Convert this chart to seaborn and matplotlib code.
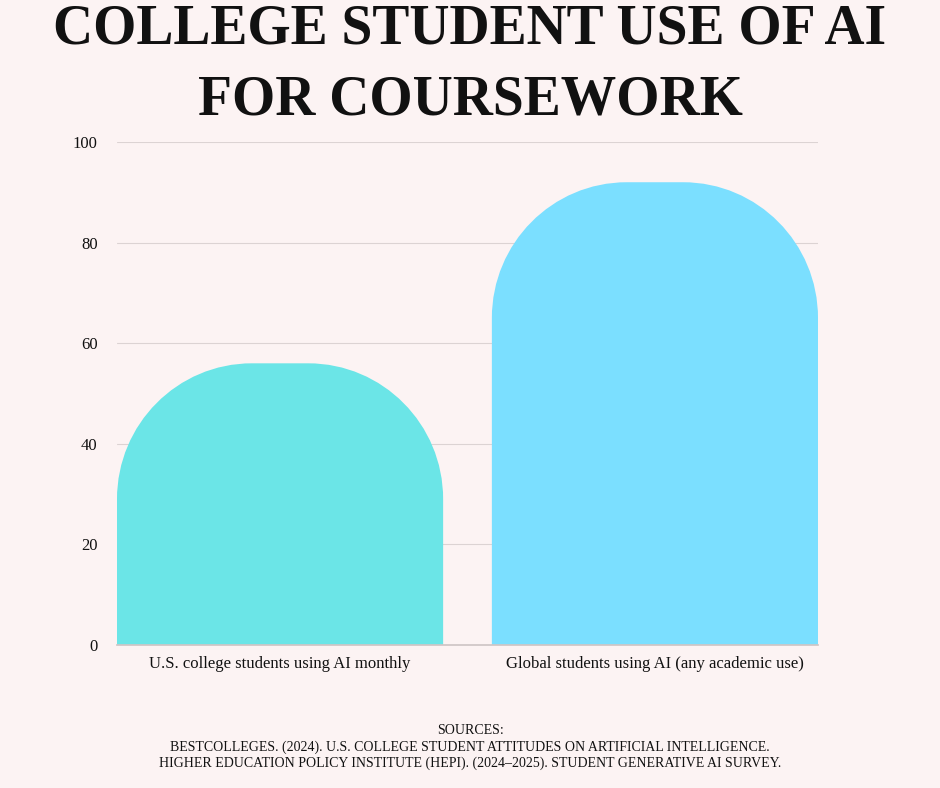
import matplotlib
matplotlib.use("Agg")
import matplotlib.pyplot as plt
import seaborn as sns
import pandas as pd
from matplotlib.path import Path
from matplotlib.patches import PathPatch

categories = ["U.S. college students using AI monthly",
              "Global students using AI (any academic use)"]
values = [56, 92]
colors = ["#6be5e7", "#7bdfff"]
title_lines = ["COLLEGE STUDENT USE OF AI", "FOR COURSEWORK"]
sources = ("SOURCES:\n"
           "BESTCOLLEGES. (2024). U.S. COLLEGE STUDENT ATTITUDES ON ARTIFICIAL INTELLIGENCE.\n"
           "HIGHER EDUCATION POLICY INSTITUTE (HEPI). (2024–2025). STUDENT GENERATIVE AI SURVEY.")

bg = "#fcf3f3"
sns.set_theme(style="white")
plt.rcParams["font.family"] = ["Liberation Serif", "DejaVu Serif"]

fig = plt.figure(figsize=(9.4, 7.88), dpi=100, facecolor=bg)
ax = fig.add_axes([117 / 940, 1 - 645 / 788, 701 / 940, 503 / 788])
ax.set_facecolor(bg)

df = pd.DataFrame({"category": categories, "value": values})
sns.barplot(data=df, x="category", y="value", hue="category", palette=colors,
            width=0.87, legend=False, ax=ax)

# replace the square bars with rounded-top ones
rx, ry = 0.36, 27
for patch, col in zip(list(ax.patches), colors):
    x0, w, h = patch.get_x(), patch.get_width(), patch.get_height()
    patch.remove()
    x1 = x0 + w
    k = 0.5523
    verts = [(x0, 0), (x0, h - ry),
             (x0, h - ry + k * ry), (x0 + rx - k * rx, h), (x0 + rx, h),
             (x1 - rx, h),
             (x1 - rx + k * rx, h), (x1, h - ry + k * ry), (x1, h - ry),
             (x1, 0), (x0, 0)]
    codes = [Path.MOVETO, Path.LINETO,
             Path.CURVE4, Path.CURVE4, Path.CURVE4,
             Path.LINETO,
             Path.CURVE4, Path.CURVE4, Path.CURVE4,
             Path.LINETO, Path.CLOSEPOLY]
    ax.add_patch(PathPatch(Path(verts, codes), facecolor=col, edgecolor="none", zorder=2))

ax.set_xlim(-0.435, 1.435)
ax.set_ylim(0, 100)
ax.set_yticks([0, 20, 40, 60, 80, 100])
ax.grid(axis="y", color="#dcd3d3", linewidth=0.8, zorder=0)
ax.set_axisbelow(True)
for s in ["top", "right", "left"]:
    ax.spines[s].set_visible(False)
ax.spines["bottom"].set_color("#cfc6c6")
ax.tick_params(axis="both", length=0, labelsize=12, colors="#111111")
ax.tick_params(axis="y", pad=14)
ax.tick_params(axis="x", pad=8)
ax.set_xlabel("")
ax.set_ylabel("")

for y, line in zip([0.962, 0.872], title_lines):
    fig.text(0.5, y, line, ha="center", va="center", fontsize=40,
             fontweight="bold", color="#111111")
fig.text(0.5, 0.052, sources, ha="center", va="center", fontsize=10,
         color="#111111", linespacing=1.3)

fig.savefig("out.png", dpi=100, facecolor=bg)
